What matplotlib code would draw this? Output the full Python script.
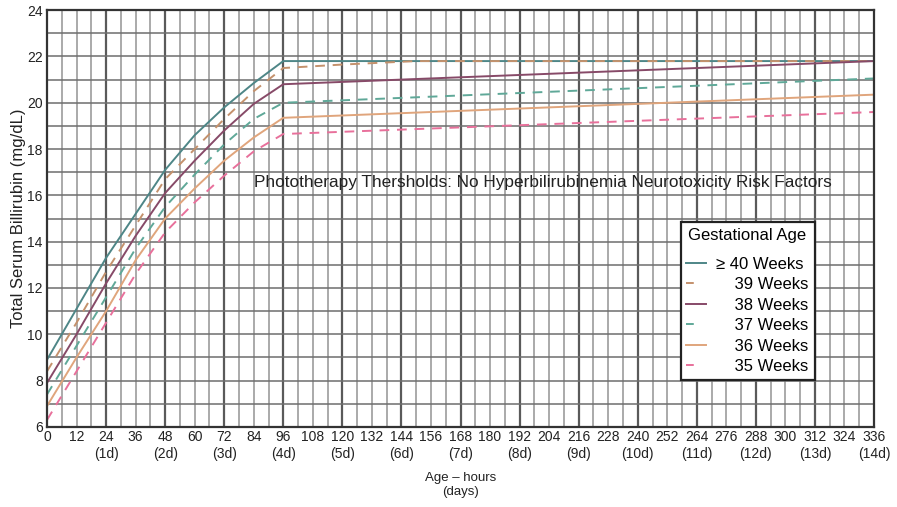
"""
Phototherapy thresholds chart (no neurotoxicity risk factors)
"""
import matplotlib
matplotlib.use('Agg')
import matplotlib.pyplot as plt
from matplotlib.ticker import MultipleLocator

plt.rcParams['font.family'] = ['Liberation Sans', 'DejaVu Sans']

# ── data ─────────────────────────────────────────────────────
hours_40 = [0, 12, 24, 36, 48, 60, 72, 84, 96, 336]
tsb_40   = [8.9, 11.1, 13.3, 15.2, 17.1, 18.6, 19.8, 20.85, 21.8, 21.8]

hours_39 = [0, 12, 24, 36, 48, 60, 72, 84, 96, 120, 150, 336]
tsb_39   = [8.4, 10.5, 12.7, 14.7, 16.7, 18.0, 19.3, 20.5, 21.5, 21.65, 21.8, 21.8]

hours_38 = [0, 12, 24, 36, 48, 60, 72, 84, 96, 336]
tsb_38   = [7.9, 10.0, 12.2, 14.25, 16.1, 17.5, 18.8, 19.95, 20.8, 21.8]

hours_37 = [0, 12, 24, 36, 48, 60, 72, 84, 96, 336]
tsb_37   = [7.4, 9.5, 11.6, 13.7, 15.5, 16.9, 18.2, 19.3, 20.0, 21.05]

hours_36 = [0, 12, 24, 36, 48, 60, 72, 84, 96, 336]
tsb_36   = [6.9, 9.0, 11.0, 13.2, 15.0, 16.3, 17.5, 18.5, 19.35, 20.35]

hours_35 = [0, 12, 24, 36, 48, 60, 72, 84, 96, 336]
tsb_35   = [6.3, 8.4, 10.5, 12.6, 14.4, 15.7, 16.85, 17.9, 18.65, 19.6]

labels = ['\u2265 40 Weeks', '    39 Weeks', '    38 Weeks',
          '    37 Weeks', '    36 Weeks', '    35 Weeks']

xtick_hours = list(range(0, 337, 12))
xtick_labels = [f'{h}\n({h // 24}d)' if h % 24 == 0 and h > 0 else str(h)
                for h in xtick_hours]

# ── styles ───────────────────────────────────────────────────
TEAL = '#4e8687'; TAN_D = '#c4916c'; PLUM = '#874a68'
TEAL_D = '#5fa898'; TAN = '#e0a57c'; PINK = '#e8709b'
DASH = (5, 4)

fig = plt.figure(figsize=(8.97, 5.07), dpi=100)
ax = fig.add_axes([0.0524, 0.158, 0.922, 0.822])

series = [
    (hours_40, tsb_40, TEAL, None),
    (hours_39, tsb_39, TAN_D, DASH),
    (hours_38, tsb_38, PLUM, None),
    (hours_37, tsb_37, TEAL_D, DASH),
    (hours_36, tsb_36, TAN, None),
    (hours_35, tsb_35, PINK, DASH),
]
for (hx, vy, c, d), lab in zip(series, labels):
    ln, = ax.plot(hx, vy, color=c, lw=1.4, label=lab, zorder=4)
    if d:
        ln.set_dashes(d)

ax.set_xlim(0, 336)
ax.set_ylim(6, 24)

# grid: light every 6 h, dark every day, every 1 mg/dL
for h in range(6, 336, 6):
    if h % 24 == 0:
        ax.axvline(h, color='#5a5a5a', lw=1.6, zorder=1)
    else:
        ax.axvline(h, color='#939393', lw=1.1, zorder=1)
for v in range(7, 24):
    ax.axhline(v, color='#6e6e6e', lw=1.1, zorder=1)

ax.set_xticks(xtick_hours)
ax.set_xticklabels(xtick_labels, fontsize=10, linespacing=1.3, va='top')
ax.yaxis.set_major_locator(MultipleLocator(2))
ax.tick_params(axis='both', length=0, labelsize=10, colors='#222222')
ax.tick_params(axis='x', pad=2)
ax.tick_params(axis='y', pad=3)

for sp in ax.spines.values():
    sp.set_color('#333333')
    sp.set_linewidth(1.6)
    sp.set_zorder(5)

ax.set_ylabel('Total Serum Billirubin (mg/dL)', fontsize=12, labelpad=1,
              color='#222222')
ax.set_xlabel('Age \u2013 hours\n(days)', fontsize=9.5, labelpad=8,
              color='#222222')

ax.text(201.5, 16.55,
        'Phototherapy Thersholds: No Hyperbilirubinemia Neurotoxicity Risk Factors',
        fontsize=12.4, color='#222222', ha='center', va='center', zorder=6)

leg = ax.legend(title='Gestational Age', loc='upper left',
                bbox_to_anchor=(0.766, 0.492), borderaxespad=0,
                fontsize=12, title_fontsize=12,
                handlelength=1.2, handletextpad=0.6, labelspacing=0.33,
                borderpad=0.35, frameon=True, fancybox=False, framealpha=1,
                edgecolor='#222222')
leg.get_frame().set_linewidth(1.6)
leg.set_zorder(7)
leg._legend_box.sep = 10   # extra room under the title
# dashed entries show a single short dash, as in the original key
for hl, (_, _, _, d) in zip(leg.get_lines(), series):
    if d:
        hl.set_dashes((4, 20))

fig.savefig('out.png', dpi=100, facecolor='white')
plt.close()
